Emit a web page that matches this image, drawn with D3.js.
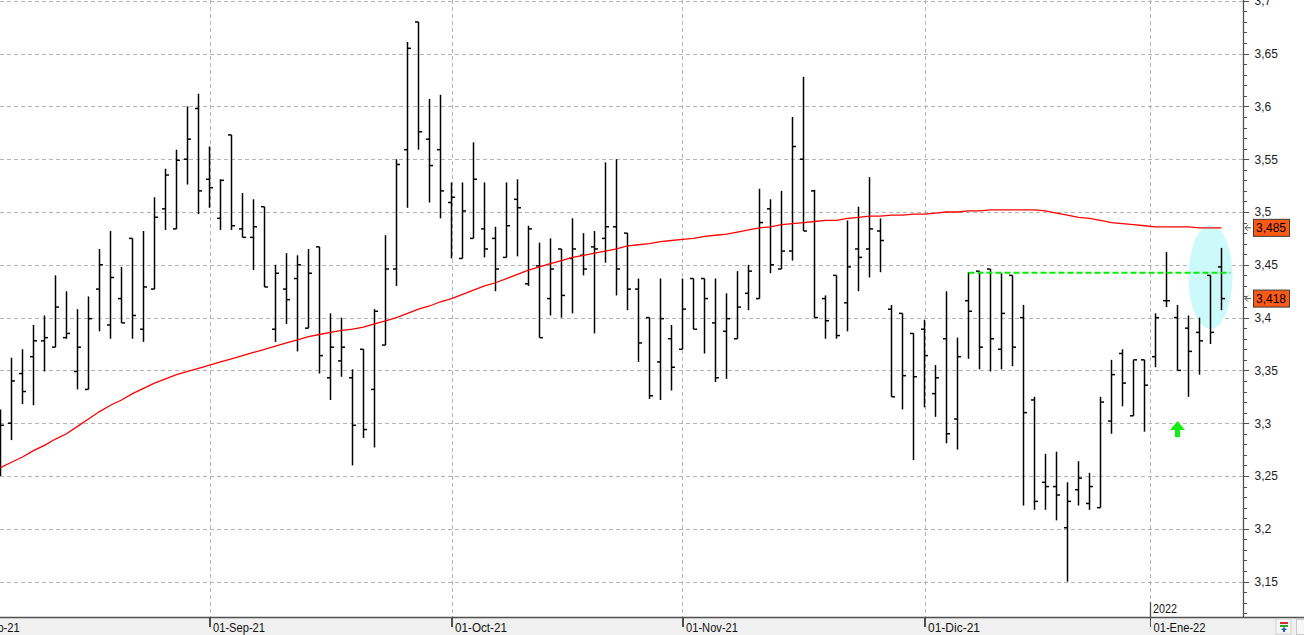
<!DOCTYPE html>
<meta charset="utf-8">
<style>
body { margin: 0; background: #fff; }
svg { display: block; font-family: "Liberation Sans", Arial, sans-serif; }
.grid line { stroke: #b4b4b4; stroke-width: 1; stroke-dasharray: 4,3; shape-rendering: crispEdges; }
.bars line { stroke: #000; stroke-width: 1.5; }
.yaxis text { font-size: 12px; fill: #1c1c28; }
.yaxis line, .xaxis line { stroke: #505050; shape-rendering: crispEdges; }
.xaxis text { font-size: 13px; fill: #111; }
</style>
<body>
<div id="chart"></div>
<script src="https://d3js.org/d3.v7.min.js"></script>
<script>
// daily bars, one per session
var opens  = [3.310,3.300,3.347,3.363,3.378,3.372,3.381,3.349,3.332,3.427,
              3.393,3.418,3.475,3.389,3.427,3.503,3.484,3.550,3.598,3.531,
              3.494,3.573,3.484,3.476,3.505,3.389,3.427,3.437,3.390,3.467,
              3.343,3.359,3.343,3.370,3.332,3.374,3.446,3.559,3.680,3.569,
              3.559,3.509,3.456,3.475,3.484,3.475,3.457,3.512,3.432,3.449,
              3.418,3.465,3.456,3.459,3.467,3.475,3.486,3.480,3.427,3.400,
              3.358,3.380,3.370,3.437,3.437,3.395,3.387,3.380,3.423,3.418,
              3.503,3.446,3.463,3.550,3.520,3.418,3.440,3.414,3.465,3.465,
              3.482,3.408,3.404,3.385,3.389,3.328,3.380,3.304,3.416,3.444,
              3.446,3.370,3.440,3.400,3.322,3.244,3.240,3.201,3.237,3.224,
              3.220,3.302,3.366,3.307,3.360,3.363,3.416,3.400,3.390,3.386,
              3.440,3.448];
var highs  = [3.313,3.362,3.370,3.393,3.402,3.440,3.425,3.408,3.420,3.465,
              3.482,3.448,3.475,3.482,3.514,3.541,3.559,3.600,3.612,3.562,
              3.531,3.573,3.518,3.512,3.505,3.450,3.461,3.459,3.465,3.467,
              3.404,3.400,3.351,3.370,3.408,3.478,3.550,3.661,3.680,3.607,
              3.611,3.528,3.528,3.566,3.528,3.486,3.528,3.531,3.487,3.471,
              3.475,3.465,3.494,3.480,3.482,3.547,3.550,3.480,3.437,3.400,
              3.437,3.393,3.437,3.437,3.437,3.437,3.423,3.444,3.450,3.522,
              3.512,3.520,3.590,3.628,3.521,3.421,3.440,3.492,3.505,3.533,
              3.494,3.412,3.404,3.385,3.398,3.355,3.425,3.381,3.443,3.444,
              3.446,3.442,3.440,3.412,3.325,3.271,3.273,3.244,3.264,3.253,
              3.325,3.360,3.370,3.360,3.360,3.404,3.462,3.412,3.402,3.400,
              3.440,3.466];
var lows   = [3.250,3.284,3.318,3.317,3.349,3.372,3.380,3.332,3.332,3.387,
              3.380,3.395,3.380,3.377,3.427,3.483,3.484,3.526,3.498,3.504,
              3.483,3.483,3.476,3.445,3.429,3.377,3.394,3.368,3.390,3.347,
              3.322,3.344,3.260,3.286,3.277,3.374,3.430,3.504,3.559,3.509,
              3.494,3.456,3.456,3.475,3.457,3.425,3.457,3.458,3.430,3.381,
              3.402,3.400,3.404,3.440,3.385,3.452,3.421,3.407,3.358,3.323,
              3.322,3.331,3.370,3.389,3.366,3.339,3.342,3.380,3.407,3.418,
              3.442,3.446,3.454,3.482,3.400,3.380,3.380,3.387,3.425,3.438,
              3.443,3.325,3.313,3.265,3.315,3.306,3.281,3.275,3.361,3.351,
              3.349,3.351,3.354,3.222,3.218,3.218,3.208,3.150,3.222,3.218,
              3.220,3.290,3.316,3.307,3.292,3.353,3.410,3.350,3.325,3.346,
              3.375,3.407];
var closes = [3.298,3.340,3.330,3.378,3.381,3.410,3.385,3.372,3.399,3.450,
              3.438,3.395,3.402,3.429,3.495,3.535,3.549,3.569,3.520,3.523,
              3.530,3.487,3.476,3.486,3.429,3.442,3.417,3.450,3.442,3.364,
              3.372,3.372,3.298,3.294,3.406,3.446,3.545,3.655,3.576,3.544,
              3.520,3.514,3.501,3.531,3.465,3.446,3.487,3.504,3.484,3.381,
              3.446,3.421,3.465,3.446,3.465,3.486,3.446,3.427,3.376,3.326,
              3.399,3.353,3.408,3.389,3.418,3.343,3.399,3.410,3.444,3.490,
              3.450,3.463,3.562,3.482,3.400,3.397,3.383,3.448,3.457,3.484,
              3.473,3.325,3.345,3.344,3.364,3.343,3.290,3.363,3.406,3.372,
              3.380,3.404,3.372,3.310,3.226,3.240,3.232,3.226,3.248,3.240,
              3.320,3.346,3.338,3.360,3.336,3.400,3.416,3.350,3.368,3.378,
              3.386,3.418];
// long moving average (red)
var ma     = [3.258,3.263,3.268,3.274,3.279,3.285,3.290,3.297,3.304,3.311,
              3.317,3.322,3.328,3.333,3.338,3.342,3.346,3.349,3.352,3.355,
              3.358,3.361,3.364,3.367,3.370,3.373,3.376,3.379,3.382,3.384,
              3.386,3.388,3.389,3.391,3.394,3.397,3.400,3.404,3.408,3.411,
              3.415,3.418,3.422,3.426,3.430,3.433,3.437,3.441,3.445,3.448,
              3.451,3.454,3.457,3.459,3.461,3.463,3.465,3.468,3.469,3.470,
              3.472,3.473,3.474,3.475,3.477,3.478,3.479,3.481,3.483,3.485,
              3.486,3.488,3.489,3.490,3.491,3.492,3.492,3.494,3.495,3.496,
              3.496,3.497,3.497,3.498,3.498,3.499,3.500,3.500,3.501,3.501,
              3.502,3.502,3.502,3.502,3.502,3.501,3.499,3.497,3.495,3.494,
              3.492,3.490,3.489,3.488,3.487,3.486,3.486,3.486,3.486,3.485,
              3.485,3.485];

// month ticks: bar index where each month starts
var monthIdx    = [-3.3, 19, 41, 62, 84, 104.5];
var monthLabels = ["01-Ago-21", "01-Sep-21", "01-Oct-21", "01-Nov-21", "01-Dic-21", "01-Ene-22"];
var yearIdx = 104.5, yearLabel = "2022";

var priceTicks  = [3.15, 3.2, 3.25, 3.3, 3.35, 3.4, 3.45, 3.5, 3.55, 3.6, 3.65, 3.7];
var priceLabels = ["3,15", "3,2", "3,25", "3,3", "3,35", "3,4", "3,45", "3,5", "3,55", "3,6", "3,65", "3,7"];

var tagValues = [3.485, 3.418];
var tagLabels = ["3,485", "3,418"];

// drawn annotations
var supportLevel = 3.4425, supportFrom = 88, supportTo = 111.8;
var ovalIdx = 110, ovalPrice = 3.4385;
var arrowIdx = 107, arrowTop = 3.302, arrowBottom = 3.287;

var W = 1304, H = 635, axisX = 1243.5, axisY = 617.5;

var svg = d3.select("#chart").append("svg")
    .attr("width", W)
    .attr("height", H);

var x = d3.scaleLinear().domain([0, 111]).range([0.5, 1221.5]);
var y = d3.scaleLinear().domain([3.15, 3.7]).range([581.6, 0.8]);

// grid
var grid = svg.append("g").attr("class", "grid");
grid.selectAll(".h").data(priceTicks).enter().append("line")
    .attr("x1", 0).attr("x2", axisX)
    .attr("y1", function(d) { return Math.round(y(d)) + 0.5; })
    .attr("y2", function(d) { return Math.round(y(d)) + 0.5; });
grid.selectAll(".v").data(monthIdx).enter().append("line")
    .attr("x1", function(d) { return Math.round(x(d)) + 0.5; })
    .attr("x2", function(d) { return Math.round(x(d)) + 0.5; })
    .attr("y1", 0).attr("y2", axisY);

// highlight oval
svg.append("ellipse")
    .attr("cx", x(ovalIdx)).attr("cy", y(ovalPrice))
    .attr("rx", 22).attr("ry", 52)
    .attr("fill", "#ccfafa");

// OHLC bars
var bars = svg.append("g").attr("class", "bars")
  .selectAll("g").data(d3.range(highs.length)).enter().append("g");
bars.append("line")
    .attr("x1", function(i) { return x(i); }).attr("x2", function(i) { return x(i); })
    .attr("y1", function(i) { return y(highs[i]); })
    .attr("y2", function(i) { return y(lows[i]); });
bars.append("line")
    .attr("x1", function(i) { return x(i) - 3.5; }).attr("x2", function(i) { return x(i); })
    .attr("y1", function(i) { return y(opens[i]); })
    .attr("y2", function(i) { return y(opens[i]); });
bars.append("line")
    .attr("x1", function(i) { return x(i); }).attr("x2", function(i) { return x(i) + 3.5; })
    .attr("y1", function(i) { return y(closes[i]); })
    .attr("y2", function(i) { return y(closes[i]); });

// moving average
svg.append("path")
    .datum(ma)
    .attr("fill", "none")
    .attr("stroke", "#ff0000")
    .attr("stroke-width", 1.3)
    .attr("d", d3.line()
      .x(function(d, i) { return x(i); })
      .y(function(d) { return y(d); }));

// green support line
svg.append("line")
    .attr("x1", x(supportFrom)).attr("x2", x(supportTo))
    .attr("y1", y(supportLevel)).attr("y2", y(supportLevel))
    .attr("stroke", "#00ee00")
    .attr("stroke-width", 2)
    .attr("stroke-dasharray", "6,3");

// green up arrow
var ax = x(arrowIdx), at = y(arrowTop), ab = y(arrowBottom), mid = at + 9;
svg.append("path")
    .attr("d", "M" + ax + "," + at + " L" + (ax + 7.5) + "," + mid + " L" + (ax + 2.5) + "," + mid +
               " L" + (ax + 2.5) + "," + ab + " L" + (ax - 2.5) + "," + ab + " L" + (ax - 2.5) + "," + mid +
               " L" + (ax - 7.5) + "," + mid + "Z")
    .attr("fill", "#11ee11");

// bottom strip
svg.append("rect")
    .attr("x", 0).attr("y", axisY).attr("width", W).attr("height", H - axisY)
    .attr("fill", "#f0f0f0");
svg.append("line")
    .attr("x1", 0).attr("x2", W).attr("y1", axisY).attr("y2", axisY)
    .attr("stroke", "#505050").attr("stroke-width", 1.5);

// right axis
svg.append("line")
    .attr("x1", axisX).attr("x2", axisX).attr("y1", 0).attr("y2", axisY)
    .attr("stroke", "#505050").attr("stroke-width", 1.3);

svg.append("g").attr("class", "yaxis")
    .attr("transform", "translate(" + axisX + ",0)")
    .call(d3.axisRight(y)
      .tickValues(d3.range(312, 371).map(function(v) { return v / 100; }))
      .tickSize(3).tickFormat(""))
    .select(".domain").remove();

var yAxis = svg.append("g").attr("class", "yaxis")
    .attr("transform", "translate(" + axisX + ",0)")
    .call(d3.axisRight(y)
      .tickValues(priceTicks)
      .tickSize(5).tickPadding(6)
      .tickFormat(function(d, i) { return priceLabels[i]; }));
yAxis.select(".domain").remove();

// last value tags
var tags = svg.append("g").selectAll("g").data(tagValues).enter().append("g")
    .attr("transform", function(d) { return "translate(0," + y(d) + ")"; });
tags.append("path")
    .attr("d", "M1245,0 L1251,0 M1248,-3 L1245,0 L1248,3")
    .attr("fill", "none").attr("stroke", "#555").attr("stroke-width", 1);
tags.append("rect")
    .attr("x", 1253.5).attr("y", -8.5).attr("width", 36).attr("height", 17)
    .attr("fill", "#ff5a14").attr("stroke", "#3c3c3c");
tags.append("text")
    .attr("x", 1256).attr("y", 4.5)
    .attr("font-size", 12).attr("fill", "#000")
    .text(function(d, i) { return tagLabels[i]; });

// bottom axis
var xAxis = svg.append("g").attr("class", "xaxis")
    .attr("transform", "translate(0," + axisY + ")")
    .call(d3.axisBottom(x)
      .tickValues(monthIdx)
      .tickSize(9)
      .tickFormat(function(d, i) { return monthLabels[i]; }));
xAxis.select(".domain").remove();
xAxis.selectAll(".tick line").attr("stroke-width", 1.3);
xAxis.selectAll("text")
    .attr("text-anchor", "start")
    .attr("x", 3).attr("y", 14).attr("dy", 0)
    .attr("textLength", 52).attr("lengthAdjust", "spacingAndGlyphs");

svg.append("line")
    .attr("x1", Math.round(x(yearIdx)) + 0.5).attr("x2", Math.round(x(yearIdx)) + 0.5)
    .attr("y1", 602).attr("y2", axisY)
    .attr("stroke", "#505050").attr("stroke-width", 1.3);
svg.append("text")
    .attr("x", x(yearIdx) + 3).attr("y", 613)
    .attr("font-size", 13).attr("fill", "#111")
    .attr("textLength", 24).attr("lengthAdjust", "spacingAndGlyphs")
    .text(yearLabel);

// little toolbar icon bottom right
var ic = svg.append("g").attr("transform", "translate(1276,619)");
ic.append("rect").attr("width", 15).attr("height", 15).attr("fill", "#f6f6f6").attr("stroke", "#d0d0d0");
ic.append("rect").attr("x", 4).attr("y", 3).attr("width", 8).attr("height", 2).attr("fill", "#d03030");
ic.append("rect").attr("x", 4).attr("y", 6).attr("width", 8).attr("height", 2).attr("fill", "#30a030");
ic.append("path").attr("d", "M8,8 L11,11 L9,11 L9,13 L7,13 L7,11 L5,11Z").attr("fill", "#2060d0");
svg.append("rect").attr("x", 1296.5).attr("y", 619.5).attr("width", 10).attr("height", 15)
    .attr("fill", "#f6f6f6").attr("stroke", "#c8c8c8");
</script>
</body>
